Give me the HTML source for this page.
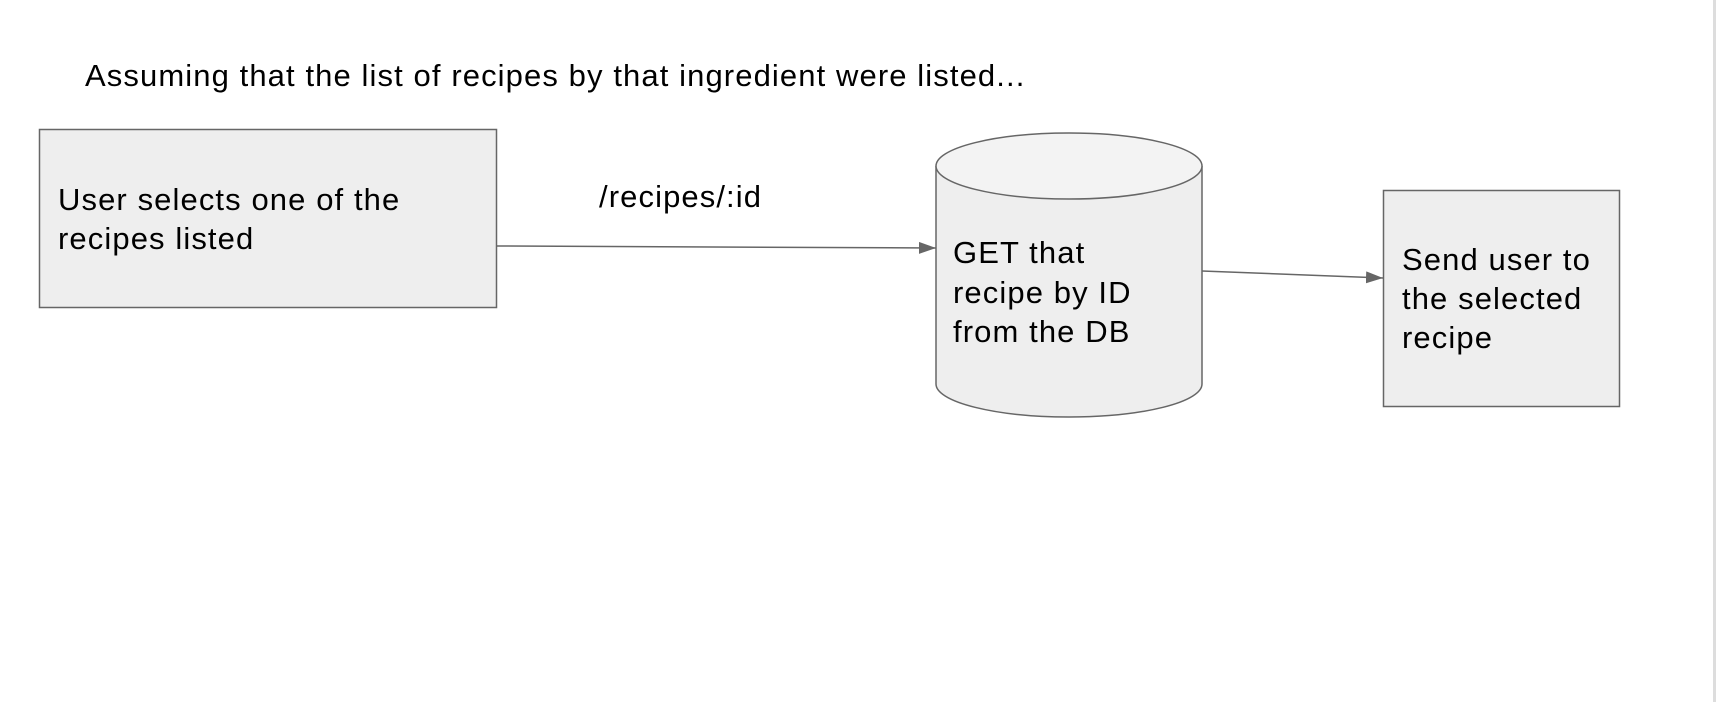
<!DOCTYPE html>
<html><head><style>
html,body{margin:0;padding:0;background:#fff;}
svg{display:block;}
text{font-family:"Liberation Sans",Arial,sans-serif;font-size:31px;letter-spacing:1.1px;fill:#000;}
</style></head><body>
<svg width="1716" height="702" viewBox="0 0 1716 702" xmlns="http://www.w3.org/2000/svg">
<defs><marker id="b" markerWidth="17" markerHeight="12" refX="17" refY="6" orient="auto" markerUnits="userSpaceOnUse"><path d="M0,0 L17,6 L0,12 Z" fill="#666"/></marker></defs>
<rect x="1713" y="0" width="3" height="702" fill="#ddd"/>
<text x="85" y="86">Assuming that the list of recipes by that ingredient were listed...</text>
<rect x="39.5" y="129.5" width="457" height="178" fill="#eee" stroke="#666" stroke-width="1.5"/>
<text x="58" y="210">User selects one of the</text>
<text x="58" y="249">recipes listed</text>
<text x="599" y="207">/recipes/:id</text>
<line x1="497" y1="246" x2="936" y2="248" stroke="#666" stroke-width="1.5" marker-end="url(#b)"/>
<path d="M936,166 L936,384 A133,33 0 0 0 1202,384 L1202,166" fill="#eee" stroke="#666" stroke-width="1.5"/>
<ellipse cx="1069" cy="166" rx="133" ry="33" fill="#f3f3f3" stroke="#666" stroke-width="1.5"/>
<text x="953" y="263">GET that</text>
<text x="953" y="303">recipe by ID</text>
<text x="953" y="342">from the DB</text>
<line x1="1202" y1="271" x2="1383" y2="278" stroke="#666" stroke-width="1.5" marker-end="url(#b)"/>
<rect x="1383.5" y="190.5" width="236" height="216" fill="#eee" stroke="#666" stroke-width="1.5"/>
<text x="1402" y="270">Send user to</text>
<text x="1402" y="309">the selected</text>
<text x="1402" y="348">recipe</text>
</svg>
</body></html>
